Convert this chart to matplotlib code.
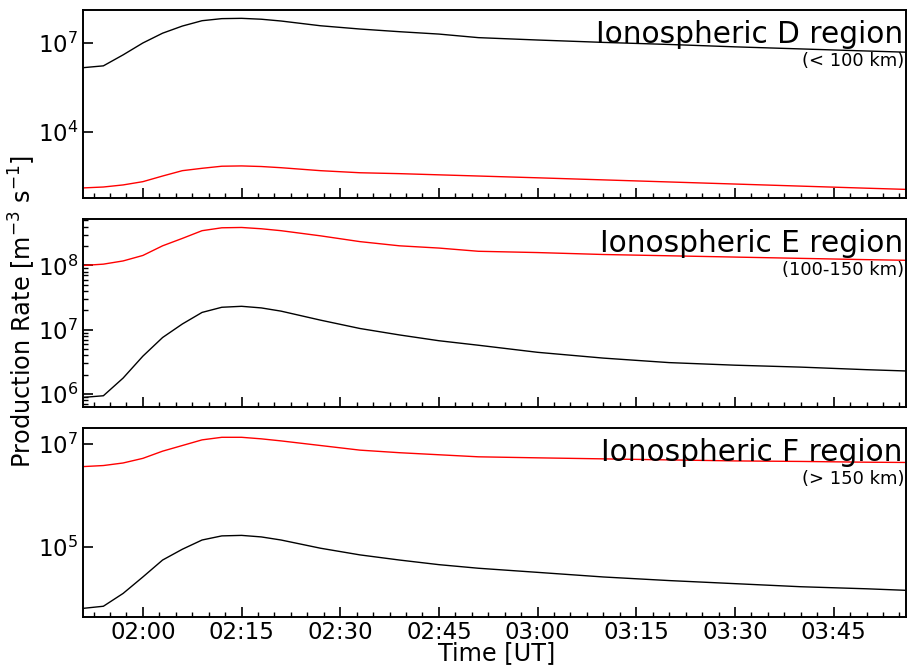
import datetime as dt
import numpy as np
import matplotlib
matplotlib.use("Agg")
from matplotlib import pyplot as plt
import matplotlib.dates as mdates
import matplotlib.ticker as mticker

# minutes after 02:00 UT
minutes = [-9, -6, -3, 0, 3, 6, 9, 12, 15, 18, 21, 27, 33, 39, 45, 51,
           60, 70, 80, 90, 100, 110, 116]

# log10 of production rate
d_black = [6.17, 6.23, 6.60, 7.00, 7.33, 7.57, 7.75, 7.82, 7.83, 7.80, 7.74, 7.58, 7.47,
           7.38, 7.30, 7.18, 7.10, 7.02, 6.95, 6.87, 6.80, 6.73, 6.69]
d_red = [2.12, 2.15, 2.22, 2.33, 2.52, 2.70, 2.78, 2.85, 2.86, 2.84, 2.80, 2.70, 2.63,
         2.60, 2.56, 2.52, 2.46, 2.39, 2.32, 2.25, 2.18, 2.11, 2.07]
e_black = [5.95, 5.975, 6.25, 6.59, 6.88, 7.09, 7.27, 7.35, 7.365, 7.34, 7.29, 7.15, 7.02,
           6.92, 6.83, 6.76, 6.65, 6.56, 6.49, 6.45, 6.42, 6.38, 6.36]
e_red = [8.00, 8.02, 8.07, 8.155, 8.305, 8.42, 8.54, 8.585, 8.59, 8.57, 8.54, 8.46, 8.37,
         8.305, 8.27, 8.22, 8.20, 8.17, 8.15, 8.13, 8.11, 8.09, 8.08]
f_black = [3.80, 3.84, 4.09, 4.41, 4.74, 4.95, 5.13, 5.21, 5.22, 5.19, 5.13, 4.97, 4.84,
           4.74, 4.65, 4.58, 4.50, 4.41, 4.34, 4.28, 4.22, 4.18, 4.15]
f_red = [6.56, 6.58, 6.63, 6.72, 6.86, 6.97, 7.08, 7.13, 7.13, 7.10, 7.06, 6.97, 6.88,
         6.83, 6.79, 6.75, 6.73, 6.71, 6.69, 6.67, 6.66, 6.645, 6.64]

titles = ["Ionospheric D region", "Ionospheric E region", "Ionospheric F region"]
subtitles = ["(< 100 km)", "(100-150 km)", "(> 150 km)"]
ylims = [(10**1.78, 10**8.11), (10**5.8, 10**8.72), (10**3.63, 10**7.31)]
yticks = [[1e4, 1e7], [1e6, 1e7, 1e8], [1e5, 1e7]]

t0 = dt.datetime(2017, 9, 10, 2, 0)
times = [t0 + dt.timedelta(minutes=m) for m in minutes]
curves = [(d_black, d_red), (e_black, e_red), (f_black, f_red)]

fig = plt.figure(figsize=(9.07, 6.68), dpi=100)
positions = [(0.0915, 0.7036, 0.9074, 0.2814),
             (0.0915, 0.3907, 0.9074, 0.2813),
             (0.0915, 0.0763, 0.9074, 0.2829)]

# minor ticks every 2.5 minutes
minor_start = mdates.date2num(t0 - dt.timedelta(minutes=10))
minor_step = 2.5 / (24 * 60)
minor_x = minor_start + minor_step * np.arange(0, 60)

for i, pos in enumerate(positions):
    ax = fig.add_axes(pos)
    blk, red = curves[i]
    ax.plot(times, 10 ** np.array(blk), color="black", lw=1.0)
    ax.plot(times, 10 ** np.array(red), color="red", lw=1.0)
    ax.set_yscale("log")
    ax.set_ylim(*ylims[i])
    ax.set_xlim(times[0] - dt.timedelta(seconds=6), times[-1])
    ax.yaxis.set_major_locator(mticker.FixedLocator(yticks[i]))
    if i == 1:
        ax.yaxis.set_minor_locator(mticker.LogLocator(base=10, subs=np.arange(2, 10)))
    else:
        ax.yaxis.set_minor_locator(mticker.NullLocator())
    ax.xaxis.set_major_locator(mdates.MinuteLocator(byminute=[0, 15, 30, 45]))
    ax.xaxis.set_minor_locator(mticker.FixedLocator(minor_x))
    ax.xaxis.set_major_formatter(mdates.DateFormatter("%H:%M"))
    ax.tick_params(which="major", direction="in", length=7, width=1.2, labelsize=16.5)
    ax.tick_params(axis="x", which="major", pad=3)
    ax.tick_params(which="minor", direction="in", length=3.5, width=1.0)
    for s in ax.spines.values():
        s.set_linewidth(1.4)
    if i < 2:
        ax.tick_params(labelbottom=False)
    ax.text(0.996, 0.826, titles[i], transform=ax.transAxes, ha="right",
            va="baseline", fontsize=21.3)
    ax.text(0.998, 0.704, subtitles[i], transform=ax.transAxes, ha="right",
            va="baseline", fontsize=13)

fig.text(0.025, 0.533, "Production Rate [m$^{-3}$ s$^{-1}$]", rotation=90,
         ha="center", va="center", fontsize=17.3)
fig.text(0.548, 0.004, "Time [UT]", ha="center", va="bottom", fontsize=17.3)

fig.savefig("out.png", dpi=100)
